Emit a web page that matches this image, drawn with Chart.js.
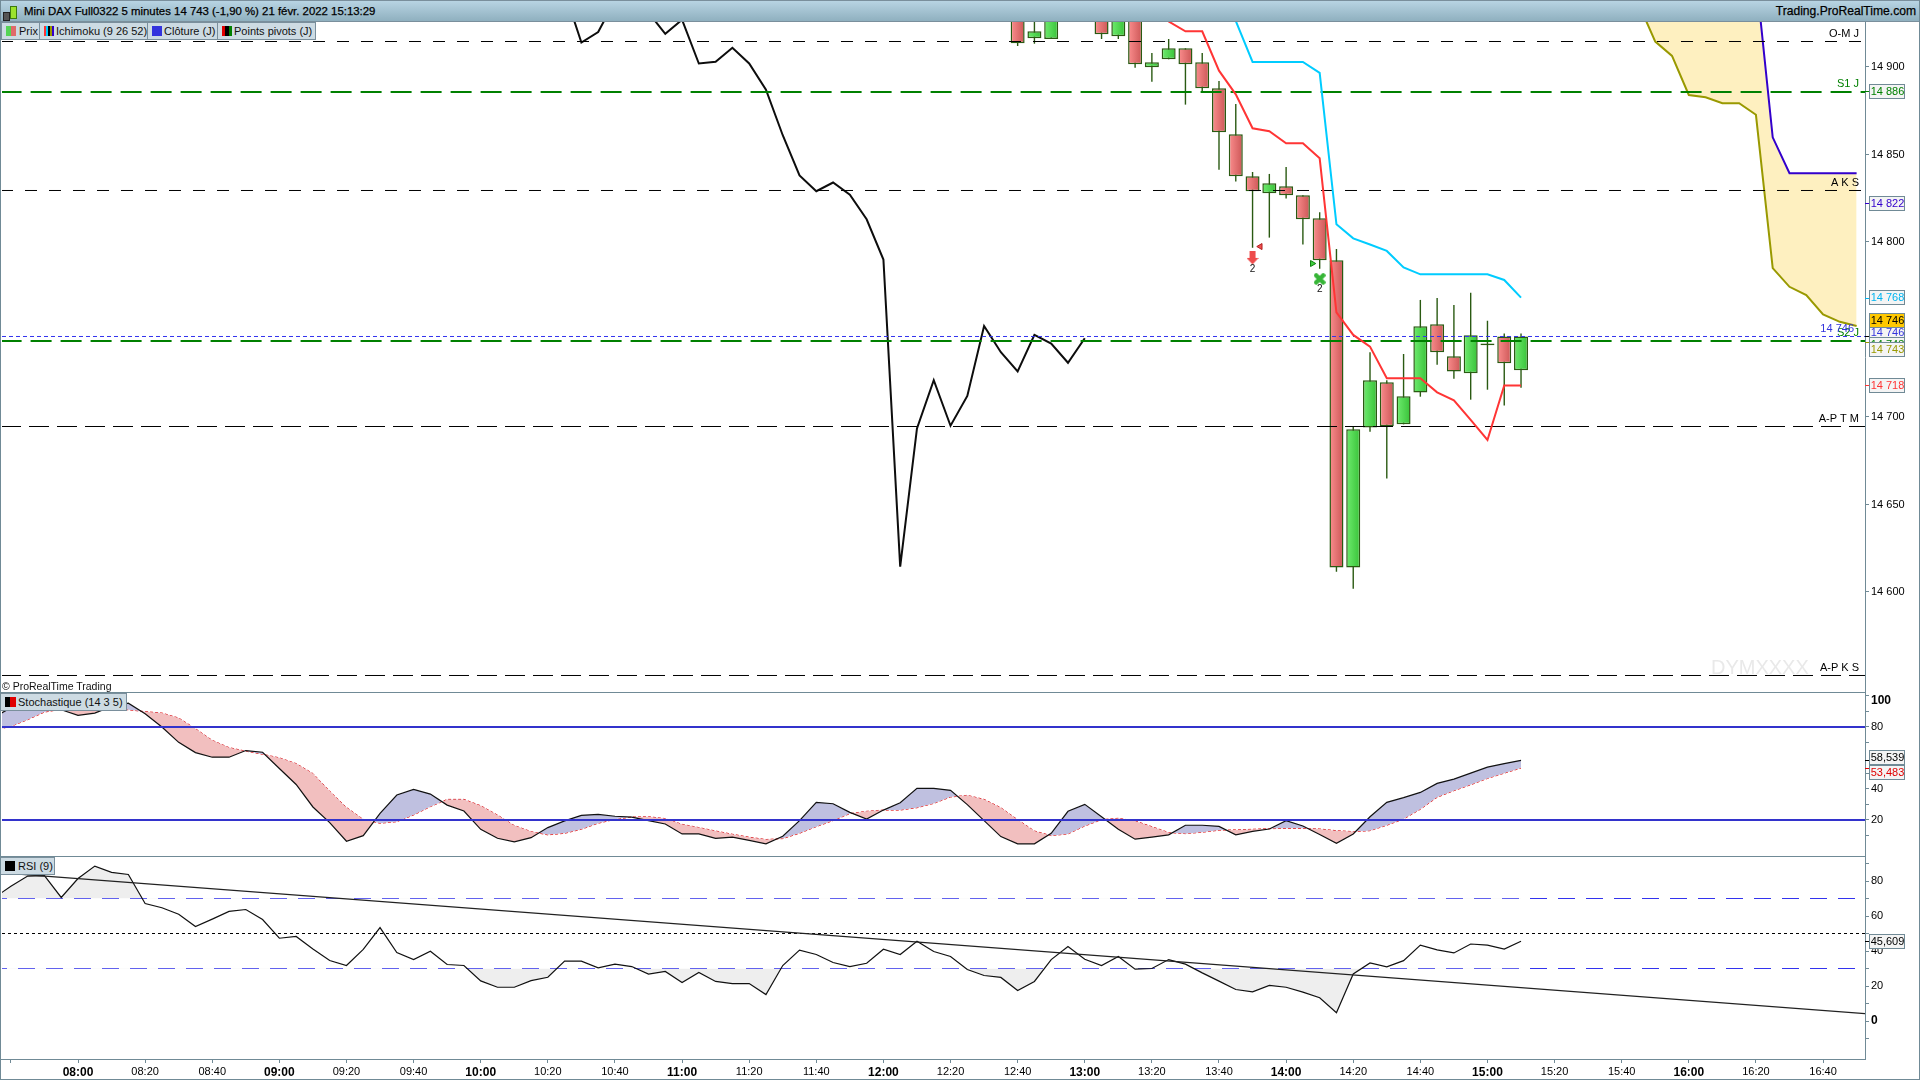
<!DOCTYPE html>
<html lang="fr">
<head>
<meta charset="utf-8">
<title>Mini DAX Full0322</title>
<script src="https://cdn.jsdelivr.net/npm/chart.js@4"></script>
<style>
html,body{margin:0;padding:0;background:#fff;width:1920px;height:1080px;overflow:hidden;font-family:"Liberation Sans",sans-serif;color:#000}
.abs{position:absolute}
canvas{position:absolute;left:0;display:block}
#title{left:0;top:0;width:1920px;background:linear-gradient(#b8d4e3,#8fb0bf);border-top:1px solid #7a8f9c;border-bottom:1px solid #7a8f9c;box-sizing:border-box;height:22px;z-index:5}
#title span{position:absolute;top:3px;font-size:11.4px;line-height:15px;white-space:nowrap;-webkit-text-stroke:.25px #000}
.leg{position:absolute;height:16px;background:#cddbe3;border:1px solid #7a8f9c;box-sizing:content-box;font-size:11px;line-height:16px;white-space:nowrap;z-index:4;color:#111}
.leg i{position:absolute;top:3px;height:10px;display:block}
.leg b{position:absolute;top:0;font-weight:normal}
.sep{position:absolute;height:1px;background:#708a96;z-index:3}
</style>
</head>
<body>
<div id="title" class="abs">
  <i class="abs" style="left:3px;top:11px;width:5px;height:7px;background:#555;border:1px solid #222"></i>
  <i class="abs" style="left:10px;top:5px;width:5px;height:11px;background:#9be22d;border:1px solid #3c7a10"></i>
  <span style="left:24px">Mini DAX Full0322 5 minutes 14 743 (-1,90 %) 21 févr. 2022 15:13:29</span>
  <span style="right:4px;font-size:12.1px">Trading.ProRealTime.com</span>
</div>

<div class="leg" style="left:1px;top:22px;width:37px"><i style="left:4px;width:5px;background:#55d455"></i><i style="left:9px;width:5px;background:#e06a6a"></i><b style="left:17px">Prix</b></div>
<div class="leg" style="left:39px;top:22px;width:107px"><i style="left:4px;width:10px;background:linear-gradient(90deg,#ff3333 0 20%,#00ccff 20% 40%,#000 40% 60%,#999900 60% 80%,#3300cc 80% 100%)"></i><b style="left:16px">Ichimoku (9 26 52)</b></div>
<div class="leg" style="left:147px;top:22px;width:69px"><i style="left:4px;width:10px;background:#3333dd"></i><b style="left:16px">Clôture (J)</b></div>
<div class="leg" style="left:217px;top:22px;width:97px"><i style="left:4px;width:10px;background:linear-gradient(90deg,#e00000 0 33%,#000 33% 66%,#008000 66% 100%)"></i><b style="left:16px">Points pivots (J)</b></div>

<div class="abs" style="left:2px;top:679px;font-size:10.5px;line-height:14px;z-index:4;color:#111">© ProRealTime Trading</div>
<div class="leg" style="left:0;top:693px;width:125px"><i style="left:4px;width:5px;background:#000"></i><i style="left:9px;width:6px;background:#e00000"></i><b style="left:17px">Stochastique (14 3 5)</b></div>
<div class="leg" style="left:0;top:857px;width:53px"><i style="left:4px;width:10px;background:#000"></i><b style="left:17px">RSI (9)</b></div>

<div class="sep" style="left:0;top:692px;width:1865px"></div>
<div class="sep" style="left:0;top:856px;width:1865px"></div>
<div class="sep" style="left:0;top:1059px;width:1865px"></div>
<div class="sep" style="left:0;top:1079px;width:1920px"></div>
<div class="abs" style="left:0;top:0;width:1px;height:1080px;background:#708a96;z-index:6"></div>
<div class="abs" style="left:1919px;top:0;width:1px;height:1080px;background:#708a96;z-index:6"></div>

<canvas id="price" width="1920" height="670" style="top:22px"></canvas>
<canvas id="stoch" width="1920" height="164" style="top:692px"></canvas>
<canvas id="rsi" width="1920" height="223" style="top:856px"></canvas>

<script>
/* ---------- time axis ---------- */
const timeTickLabels = ['', '08:00', '08:20', '08:40', '09:00', '09:20', '09:40', '10:00', '10:20', '10:40',
  '11:00', '11:20', '11:40', '12:00', '12:20', '12:40', '13:00', '13:20', '13:40', '14:00', '14:20', '14:40',
  '15:00', '15:20', '15:40', '16:00', '16:20', '16:40'];

/* ---------- candles: bars 12:40 to 15:10 ---------- */
const candleOpen = [14943, 14916.4, 14916, 14938, 14935, 14931, 14917.5, 14927, 14899.8, 14904.4, 14910.7, 14902.7,
  14887.8, 14861.5, 14837.5, 14827.8, 14831.8, 14826.7, 14813.5, 14789.5, 14614, 14694, 14719.8, 14695.8, 14714,
  14753, 14734.7, 14725, 14741, 14746, 14726.7];
const candleHigh = [14950, 14930, 14945, 14942, 14940, 14940, 14935, 14932, 14908, 14916, 14910.7, 14908,
  14892, 14878.9, 14840, 14838.9, 14842.9, 14826.7, 14817, 14796, 14694.5, 14737, 14721, 14736, 14766.9,
  14768, 14764, 14771, 14755, 14747.7, 14747.7];
const candleLow = [14912, 14913.3, 14916.2, 14930, 14927, 14916, 14916, 14899.6, 14891.6, 14904.4, 14878.5, 14886,
  14841.3, 14834.5, 14796.7, 14802.5, 14824.8, 14798.5, 14784.7, 14611.6, 14601.9, 14691.6, 14664.8, 14695.8, 14711.6,
  14729.9, 14721.9, 14709.9, 14715.6, 14706.5, 14716.7];
const candleClose = [14913.5, 14920.4, 14938, 14935, 14931, 14918.7, 14927, 14901.5, 14902.7, 14910.7, 14901.5, 14887.8,
  14862.7, 14837.5, 14829, 14833.5, 14826.7, 14813, 14789.5, 14614, 14693, 14721, 14694.7, 14711.8, 14751.8,
  14737, 14726, 14746.7, 14742, 14730.7, 14746];
const candleFirstBar = 56;

/* ---------- Ichimoku ---------- */
const chikouValues = [14943, 14914, 14920, 14938, 14935, 14931, 14919, 14927, 14902, 14903, 14911, 14902, 14887, 14861,
  14838, 14829, 14834, 14827, 14813, 14790, 14614.5, 14693.5, 14721, 14695, 14712, 14752, 14737, 14726, 14747, 14742,
  14731, 14745];
const chikouFirstBar = 29;
const tenkanValues = [14936, 14926, 14920.4, 14920.4, 14897.9, 14884.4, 14865, 14863.3, 14856.4, 14856.4, 14847.8,
  14759.8, 14746.9, 14740.2, 14722.1, 14722.1, 14722.1, 14714.1, 14709.5, 14698.3, 14686.9, 14718, 14718];
const tenkanFirstBar = 64;
const kijunValues = [14950, 14926.3, 14902.9, 14902.9, 14902.9, 14902.9, 14896.6, 14810.1, 14802.1, 14798.6, 14794.9,
  14785.5, 14781.5, 14781.5, 14781.5, 14781.5, 14781.5, 14778.3, 14768.2];
const kijunFirstBar = 68;
const senkouAValues = [14936.2, 14914.5, 14906.3, 14884, 14882.7, 14879.3, 14879.3, 14872.7, 14785.1, 14774.4, 14769.7,
  14758.6, 14754.4, 14752];
const senkouBValues = [14990, 14990, 14990, 14990, 14990, 14990, 14990, 14952.4, 14859.8, 14839.3, 14839.3, 14839.3,
  14839.3, 14839.3];
const senkouFirstBar = 93;

/* ---------- pivot levels ---------- */
const levelNames = ['O-M J', 'S1 J', 'A K S', 'S2 J', 'A-P T M', 'A-P K S'];
const levelValues = [14914.57, 14885.71, 14829.43, 14743.43, 14694.57, 14552.29];
const lastCloseLevel = 14746;
const priceTicks = [14900, 14850, 14800, 14700, 14650, 14600];

/* ---------- stochastic, first bar 07:35 ---------- */
const stochK = [86.4, 92.4, 95, 93.9, 91.1, 87.5, 89, 93.3, 95.4, 88.6, 80, 70.1, 63.5, 60.5, 60.5, 64.8, 63.7, 53.2, 42.9,
  28.4, 18.3, 6.3, 9.9, 24.3, 36.1, 39.7, 36.7, 29.6, 25.8, 14, 8.2, 5.9, 8.6, 15.1, 19.4, 23, 23.6, 22.4, 21.9,
  19.6, 17.4, 11, 11, 8.2, 8.9, 6.9, 4.6, 9.5, 19.6, 31.4, 30.5, 24.9, 20.6, 26.4, 31.1, 40.4, 40.4, 39.1, 29.9,
  19.6, 9.3, 4.6, 4.6, 11.4, 25.6, 30.1, 22.1, 14, 7.6, 8.9, 10.4, 16.6, 16.6, 15.9, 10.4, 12.7, 14.2,
  19.6, 16.1, 10.6, 5, 11, 22.1, 31.4, 34.4, 37.8, 43.6, 46.4, 50.2, 54.1, 56.4, 58.5];
const stochD = [77.9, 80.4, 84.7, 89.6, 91.4, 90.3, 90.3, 91.8, 91.1, 89.9, 89, 85.8, 78.9, 71.4, 66.7, 64.4, 62.4, 60.1,
  56.4, 50, 38.6, 28.1, 20.4, 17.9, 18.9, 23.2, 28.6, 33.3, 33.3, 29.2, 23.2, 16.4, 12.5, 10.4, 11.4, 14, 17.9, 20.4,
  21.9, 22.1, 20.9, 17.2, 15.1, 12.9, 10.8, 8.9, 7.4, 8, 11.4, 15.7, 19.6, 24.1, 25.6, 26.4, 26.4, 27.9, 30.7, 34.8,
  35.9, 33.3, 27.9, 20.2, 12.9, 9.9, 11, 16.1, 20.2, 21.1, 19.4, 15.7, 11.9, 11.2, 12.1, 13.4, 13.6, 14, 14.4,
  14.6, 14.6, 14.2, 13.1, 12.5, 13.1, 16.6, 20.6, 26.9, 34.6, 38.9, 42.7, 46.8, 50.2, 53.5];
const stochLevels = [80, 20];
const stochTicks = [100, 90, 80, 70, 50, 40, 30, 20, 10];
const stochLabelled = [100, 80, 40, 20];

/* ---------- RSI, first bar 07:35 ---------- */
const rsiValues = [70.4, 77, 82.8, 83.1, 70.6, 81.4, 88.5, 84.9, 83.7, 67.1, 64.7, 61, 54, 58.2, 62.6, 63.7, 58, 47.3, 48.3,
  41.2, 34.6, 31.7, 40.9, 53.4, 39.1, 35.1, 39.9, 32.3, 31.7, 22.9, 19.3, 19.3, 23.1, 25, 34.2, 34.2, 30.4, 32.5, 31.1,
  26.8, 28.3, 22, 27.7, 22.6, 21.4, 21.4, 15.1, 31.7, 40.5, 38, 33.4, 31.1, 33, 41, 38, 45.6, 39.7, 36.9, 29.4, 26,
  24.9, 17.4, 22.6, 35.1, 42.6, 35.3, 31.7, 36.9, 29.6, 30, 35.1, 32.5, 27.5, 22.8, 18, 16.7, 20.3,
  19.3, 16.5, 13.3, 4.7, 26.9, 33.2, 30.9, 34.5, 43.4, 40.6, 38.9, 44, 43.4, 41.1, 45.6];
const rsiBands = [70, 30];
const rsiMiddle = 50;
const rsiTrendEnds = [84.7, 4.2];
const rsiTicks = [90, 80, 70, 60, 50, 40, 30, 20, 10, 0, -10];
const rsiLabelled = [80, 60, 40, 20, 0];
const stochRsiFirstBar = -5;

/* ---------- view ranges ---------- */
const xMin = -4.53, xMax = 106.5;
const priceMin = 14542.857, priceMax = 14925.714;
const stochMin = -3.23, stochMax = 102.58;
const rsiMin = -21.714, rsiMax = 94.286;

/* ---------- helpers ---------- */
const FONT = '"Liberation Sans", sans-serif';
const AXIS = '#708a96';
Chart.defaults.font.family = FONT;
const pts = (vals, first) => vals.map((v, i) => ({x: first + i, y: v}));
const flat = v => [{x: xMin, y: v}, {x: xMax, y: v}];
const line = (data, color, width, extra) => Object.assign({type: 'line', data, borderColor: color, borderWidth: width,
  pointRadius: 0, tension: 0, fill: false, borderJoinStyle: 'miter'}, extra || {});

function frameScales(yMin, yMax, ticks, fmt, bold, showX) {
  return {
    x: {
      type: 'linear', min: xMin, max: xMax, offset: false, bounds: 'data', display: !!showX,
      grid: {display: showX, drawOnChartArea: false, drawTicks: true, tickLength: 4, color: AXIS},
      border: {display: false},
      afterBuildTicks: s => { s.ticks = timeTickLabels.map((_, j) => ({value: -4 + 4 * j})); },
      afterFit: s => { s.height = showX ? 20 : 0; s.paddingLeft = 0; s.paddingRight = 0; },
      ticks: {
        autoSkip: false, maxRotation: 0, minRotation: 0, padding: 2, color: '#000',
        callback: v => timeTickLabels[(v + 4) / 4],
        font: c => {
          const t = c.tick ? (timeTickLabels[(c.tick.value + 4) / 4] || '') : '';
          return t.endsWith(':00') ? {size: 12, weight: 'bold', family: FONT} : {size: 11, family: FONT};
        }
      }
    },
    y: {
      position: 'right', min: yMin, max: yMax, bounds: 'data',
      grid: {drawOnChartArea: false, drawTicks: true, tickLength: 4, color: AXIS},
      border: {display: true, color: AXIS, width: 1},
      afterBuildTicks: s => { s.ticks = ticks.map(v => ({value: v})); },
      afterFit: s => { s.width = 55; s.paddingTop = 0; s.paddingBottom = 0; },
      ticks: {
        autoSkip: false, padding: 2, color: '#000', align: 'center',
        callback: fmt,
        font: c => (c.tick && bold.includes(c.tick.value)) ? {size: 12, weight: 'bold', family: FONT} : {size: 11, family: FONT}
      }
    }
  };
}
const baseOptions = (scales, padBottom) => ({
  responsive: false, animation: false, devicePixelRatio: 1,
  layout: {autoPadding: false, padding: {left: 2, right: 0, top: 0, bottom: padBottom || 0}},
  plugins: {legend: {display: false}, tooltip: {enabled: false}},
  events: [],
  scales
});

function tagPlugin(tags) {
  return {
    id: 'tags',
    afterDraw(chart) {
      const c = chart.ctx, sy = chart.scales.y, right = chart.chartArea.right;
      c.save();
      c.font = '11px ' + FONT; c.textAlign = 'center'; c.textBaseline = 'middle';
      tags.forEach(t => {
        const py = sy.getPixelForValue(t.value), cy = py + (t.shift || 0);
        c.strokeStyle = t.color; c.lineWidth = 1;
        c.beginPath(); c.moveTo(right, Math.round(py) + .5); c.lineTo(right + 4, Math.round(py) + .5); c.stroke();
        c.fillStyle = t.bg || '#f4f4f4';
        const top = Math.round(cy - 7.5);
        c.fillRect(right + 4, top, 36, 15);
        c.strokeStyle = AXIS;
        c.strokeRect(right + 4.5, top + .5, 35, 14);
        c.fillStyle = t.text2 || t.color;
        c.fillText(t.text, right + 22.5, top + 8);
      });
      c.restore();
    }
  };
}

/* marker images for the signals */
function arrowImage() {
  const k = document.createElement('canvas'); k.width = 12; k.height = 14;
  const c = k.getContext('2d');
  c.fillStyle = '#ee4b4b'; c.strokeStyle = '#c03030';
  c.beginPath(); c.moveTo(3, 0); c.lineTo(9, 0); c.lineTo(9, 7); c.lineTo(12, 7); c.lineTo(6, 13.5); c.lineTo(0, 7); c.lineTo(3, 7); c.closePath();
  c.fill(); return k;
}
function crossImage() {
  const k = document.createElement('canvas'); k.width = 12; k.height = 12;
  const c = k.getContext('2d');
  c.strokeStyle = '#37b537'; c.lineWidth = 4.5; c.lineCap = 'round';
  c.beginPath(); c.moveTo(2.5, 2.5); c.lineTo(9.5, 9.5); c.moveTo(9.5, 2.5); c.lineTo(2.5, 9.5); c.stroke();
  return k;
}

/* ---------- price panel ---------- */
const candleBars = candleOpen.map((_, i) => candleFirstBar + i);
const wickData = candleBars.map((k, i) => ({x: k, y: [candleLow[i], candleHigh[i]]}));
const bodyData = candleBars.map((k, i) => ({x: k, y: [candleOpen[i], candleClose[i]]}));
const bodyFill = ctx => {
  const i = ctx.dataIndex, chart = ctx.chart;
  const up = candleClose[i] >= candleOpen[i];
  const cx = chart.scales.x ? chart.scales.x.getPixelForValue(candleBars[i]) : NaN;
  if (!Number.isFinite(cx)) return up ? '#50d850' : '#e47070';
  const g = chart.ctx.createLinearGradient(cx - 7, 0, cx + 7, 0);
  if (up) { g.addColorStop(0, '#6fec6f'); g.addColorStop(1, '#38c238'); }
  else { g.addColorStop(0, '#fb8e8e'); g.addColorStop(1, '#cc5656'); }
  return g;
};
const senkouA = pts(senkouAValues, senkouFirstBar);
const senkouB = pts(senkouBValues, senkouFirstBar);

const priceDatasets = [
  line([{x: 70, y: 14790.9}], 'rgba(0,0,0,0)', 0, {showLine: false, pointRadius: 7, pointStyle: arrowImage(), order: 0}),
  line([{x: 74, y: 14778.9}], 'rgba(0,0,0,0)', 0, {showLine: false, pointRadius: 6, pointStyle: crossImage(), order: 0}),
  line([{x: 70.46, y: 14797.4}], '#b02020', 1, {showLine: false, pointRadius: 3.5, pointStyle: 'triangle', pointRotation: -90, pointBackgroundColor: '#f05050', pointBorderColor: '#b02020', order: 0}),
  line([{x: 73.56, y: 14787.7}], '#108010', 1, {showLine: false, pointRadius: 3.5, pointStyle: 'triangle', pointRotation: 90, pointBackgroundColor: '#40d040', pointBorderColor: '#108010', order: 0}),
  line(pts(tenkanValues, tenkanFirstBar), '#ff3535', 2, {order: 1}),
  line(pts(kijunValues, kijunFirstBar), '#00ccff', 2, {order: 1}),
  line(flat(lastCloseLevel), '#3333ee', 1, {borderDash: [4, 3], order: 2}),
  line(flat(levelValues[0]), '#000', 1, {borderDash: [12, 12], borderDashOffset: 1, order: 2}),
  line(flat(levelValues[1]), '#008000', 2, {borderDash: [21, 9], borderDashOffset: 1.4, order: 2}),
  line(flat(levelValues[2]), '#000', 1, {borderDash: [12, 12], borderDashOffset: 1, order: 2}),
  line(flat(levelValues[3]), '#008000', 2, {borderDash: [21, 9], borderDashOffset: 1.4, order: 2}),
  line(flat(levelValues[4]), '#000', 1, {borderDash: [20, 8], borderDashOffset: 1, order: 2}),
  line(flat(levelValues[5]), '#000', 1, {borderDash: [20, 8], borderDashOffset: 1, order: 2}),
  {type: 'bar', data: bodyData, backgroundColor: bodyFill, borderColor: '#2a5a12', borderWidth: 1.5, borderSkipped: false, inflateAmount: 0, barThickness: 14, grouped: false, order: 3},
  {type: 'bar', data: wickData, backgroundColor: '#2a5a12', borderWidth: 0, inflateAmount: 0, barThickness: 1.4, grouped: false, order: 4},
  line(pts(chikouValues, chikouFirstBar), '#0d0d0d', 2, {order: 4.5}),
  line(senkouB, '#3300cc', 2, {order: 5}),
  line(senkouA, '#999900', 2, {order: 5, fill: {target: 16, above: '#fef0c0', below: '#fef0c0'}})
];

const priceTags = [
  {value: 14886, text: '14 886', color: '#008000'},
  {value: 14822, text: '14 822', color: '#3300cc'},
  {value: 14768, text: '14 768', color: '#00b4f0'},
  {value: 14718, text: '14 718', color: '#ff3535'},
  {value: 14746, text: '14 746', color: '#3333dd', shift: -3.5},
  {value: 14743, text: '14 743', color: '#008000', shift: 3},
  {value: 14743, text: '14 743', color: '#999900', shift: 8},
  {value: 14746, text: '14 746', color: '#000', bg: '#ffc800', shift: -15.5}
];

const priceTextPlugin = {
  id: 'priceText',
  afterDatasetsDraw(chart) {
    const c = chart.ctx, s = chart.scales.y, x = chart.scales.x;
    c.save();
    c.font = '11px ' + FONT; c.textAlign = 'right'; c.textBaseline = 'middle';
    const colors = ['#000', '#008000', '#000', '#008000', '#000', '#000'];
    levelNames.forEach((n, i) => {
      c.fillStyle = colors[i];
      c.fillText(n, 1859, s.getPixelForValue(levelValues[i]) - 8);
    });
    c.fillStyle = '#3333dd';
    c.fillText('14 746', 1854, s.getPixelForValue(lastCloseLevel) - 8);
    c.fillStyle = '#111'; c.textAlign = 'center';
    c.font = '10px ' + FONT;
    c.fillText('2', x.getPixelForValue(70), s.getPixelForValue(14790.9) + 11.5);
    c.fillText('2', x.getPixelForValue(74), s.getPixelForValue(14778.9) + 10.5);
    c.fillStyle = '#e9e9e9'; c.textAlign = 'left';
    c.font = '20px ' + FONT;
    c.fillText('DYMXXXX', 1711, 646);
    c.restore();
  }
};

new Chart(document.getElementById('price'), {
  type: 'line',
  data: {datasets: priceDatasets},
  options: baseOptions(frameScales(priceMin, priceMax, priceTicks,
    v => String(v).replace(/(\d\d)(\d{3})/, '$1 $2'), [], false)),
  plugins: [priceTextPlugin, tagPlugin(priceTags)]
});

/* ---------- stochastic panel ---------- */
const shiftTopLabel = {
  id: 'shiftTopLabel',
  beforeDraw(chart) {
    const items = chart.scales.y.getLabelItems();
    items.forEach(it => {
      if (it.label === '100' && !it._moved) { it.options.translation[1] += 5; it._moved = true; }
    });
  }
};
new Chart(document.getElementById('stoch'), {
  type: 'line',
  data: {datasets: [
    line(pts(stochK, stochRsiFirstBar), '#111', 1.2, {order: 1, fill: {target: 1, above: '#bfc0e0', below: '#f2bfbf'}}),
    line(pts(stochD, stochRsiFirstBar), '#e00000', 1, {borderDash: [3, 2], order: 1}),
    line(flat(stochLevels[0]), '#3333cc', 2, {order: 0}),
    line(flat(stochLevels[1]), '#3333cc', 2, {order: 0})
  ]},
  options: baseOptions(frameScales(stochMin, stochMax, stochTicks,
    v => stochLabelled.includes(v) ? String(v) : '', [100], false)),
  plugins: [shiftTopLabel, tagPlugin([
    {value: 58.539, text: '58,539', color: '#000', shift: -2.5},
    {value: 53.483, text: '53,483', color: '#e00000', shift: 4}
  ])]
});

/* ---------- RSI panel ---------- */
new Chart(document.getElementById('rsi'), {
  type: 'line',
  data: {datasets: [
    line(pts(rsiValues, stochRsiFirstBar), '#111', 1.2, {order: 1, fill: {target: {value: rsiBands[0]}, above: '#eeeeee', below: 'rgba(0,0,0,0)'}}),
    line(pts(rsiValues, stochRsiFirstBar), 'rgba(0,0,0,0)', 0, {order: 2, fill: {target: {value: rsiBands[1]}, above: 'rgba(0,0,0,0)', below: '#eeeeee'}}),
    line(flat(rsiBands[0]), '#3333ee', 1, {borderDash: [17, 11], borderDashOffset: 12, order: 3}),
    line(flat(rsiBands[1]), '#3333ee', 1, {borderDash: [17, 11], borderDashOffset: 12, order: 3}),
    line(flat(rsiMiddle), '#000', 1, {borderDash: [3, 3], order: 3}),
    line([{x: xMin, y: rsiTrendEnds[0]}, {x: xMax, y: rsiTrendEnds[1]}], '#222', 1.2, {order: 0})
  ]},
  options: baseOptions(frameScales(rsiMin, rsiMax, rsiTicks,
    v => rsiLabelled.includes(v) ? String(v) : '', [0], true)),
  plugins: [tagPlugin([{value: 45.609, text: '45,609', color: '#000'}])]
});
</script>
</body>
</html>
